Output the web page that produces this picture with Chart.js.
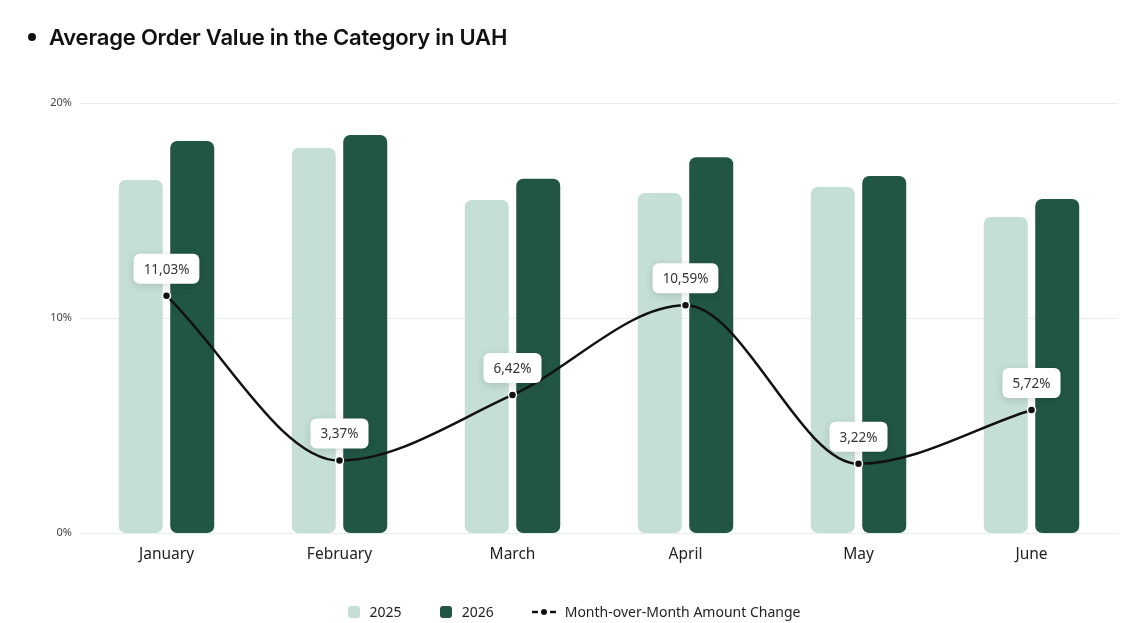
<!DOCTYPE html>
<html>
<head>
<meta charset="utf-8">
<script src="https://cdn.jsdelivr.net/npm/chart.js@4/dist/chart.umd.min.js"></script>
<style>
  html,body{margin:0;padding:0;background:#fff;width:1148px;height:623px;overflow:hidden;}
  #wrap{position:relative;width:1148px;height:623px;}
  #title{position:absolute;left:28px;top:24px;font-family:"Inter","Noto Sans",sans-serif;font-weight:600;font-size:22px;color:#111;letter-spacing:-0.2px;}
  #title .dot{display:inline-block;width:8px;height:8px;border-radius:50%;background:#111;margin-right:13px;vertical-align:middle;position:relative;top:-2px;}
  #chart{position:absolute;left:0;top:0;}
  #legend{position:absolute;left:0;top:602px;width:1148px;display:flex;justify-content:center;font-family:"Noto Sans",sans-serif;font-size:14px;color:#222;}
  .li{display:flex;align-items:center;margin:0 19px;}
  .sw{width:12px;height:12px;border-radius:3px;margin-right:10px;}
  .ln{position:relative;width:24px;height:12px;margin-right:9px;}
</style>
</head>
<body>
<div id="wrap">
  <canvas id="chart" width="1148" height="623"></canvas>
  <div id="title"><span class="dot"></span>Average Order Value in the Category in UAH</div>
  <div id="legend">
    <div class="li"><div class="sw" style="background:#c5dfd6"></div>2025</div>
    <div class="li"><div class="sw" style="background:#215645"></div>2026</div>
    <div class="li"><canvas class="ln" id="lnIcon" width="24" height="12"></canvas>Month-over-Month Amount Change</div>
  </div>
</div>
<script>
const categories = ["January","February","March","April","May","June"];
const aov2025 = [1642, 1791, 1549, 1581, 1609, 1470];
const aov2026 = [1823, 1851, 1648, 1748, 1661, 1554];
const changePct = [11.03, 3.37, 6.42, 10.59, 3.22, 5.72];
const yTicks = [0, 10, 20];

const LIGHT = "#c5dfd6", DARK = "#215645";

// legend line icon
(function(){
  const c = document.getElementById('lnIcon').getContext('2d');
  c.strokeStyle = '#111'; c.lineWidth = 2.5;
  c.beginPath(); c.moveTo(0,6); c.lineTo(6,6); c.stroke();
  c.beginPath(); c.moveTo(18,6); c.lineTo(24,6); c.stroke();
  c.fillStyle = '#111'; c.beginPath(); c.arc(12,6,3,0,Math.PI*2); c.fill();
})();

const labelPlugin = {
  id: 'boxLabels',
  afterDatasetsDraw(chart) {
    const meta = chart.getDatasetMeta(2);
    const ctx = chart.ctx;
    ctx.save();
    ctx.font = '13.5px "Noto Sans", sans-serif';
    meta.data.forEach((pt, i) => {
      const txt = changePct[i].toFixed(2).replace('.', ',') + '%';
      const w = ctx.measureText(txt).width + 20;
      const h = 30;
      const x = pt.x - w / 2;
      const y = pt.y - 12 - h;
      ctx.save();
      ctx.shadowColor = 'rgba(0,0,0,0.14)';
      ctx.shadowBlur = 8;
      ctx.shadowOffsetY = 2;
      ctx.fillStyle = '#fff';
      ctx.beginPath();
      ctx.roundRect(x, y, w, h, 6);
      ctx.fill();
      ctx.restore();
      ctx.fillStyle = '#333';
      ctx.textAlign = 'center';
      ctx.textBaseline = 'middle';
      ctx.fillText(txt, pt.x, y + h / 2 + 1);
    });
    ctx.restore();
  }
};

new Chart(document.getElementById('chart'), {
  data: {
    labels: categories,
    datasets: [
      { type: 'bar', label: '2025', data: aov2025, backgroundColor: LIGHT, yAxisID: 'y1',
        borderRadius: 7, borderSkipped: false, categoryPercentage: 0.595, barPercentage: 0.855, order: 2 },
      { type: 'bar', label: '2026', data: aov2026, backgroundColor: DARK, yAxisID: 'y1',
        borderRadius: 7, borderSkipped: false, categoryPercentage: 0.595, barPercentage: 0.855, order: 2 },
      { type: 'line', label: 'Month-over-Month Amount Change', data: changePct, yAxisID: 'y',
        borderColor: '#111', borderWidth: 2.5, cubicInterpolationMode: 'monotone',
        pointRadius: 4, pointBackgroundColor: '#111', pointBorderColor: '#fff', pointBorderWidth: 1.5, order: 0 }
    ]
  },
  options: {
    responsive: false,
    animation: false,
    layout: { padding: { top: 103, right: 30, left: 0, bottom: 0 } },
    plugins: { legend: { display: false }, tooltip: { enabled: false } },
    scales: {
      x: {
        grid: { display: false, drawTicks: false },
        border: { display: false },
        ticks: { padding: 12, color: '#222', font: { family: '"Noto Sans", sans-serif', size: 15.5 } },
        afterFit(s) { s.height = 90; }
      },
      y: {
        min: 0, max: 20,
        afterBuildTicks(s) { s.ticks = yTicks.map(v => ({ value: v })); },
        grid: { color: '#e6efe9', drawTicks: false, lineWidth: 1 },
        border: { display: false },
        ticks: { padding: 8, color: '#444', font: { family: '"Noto Sans", sans-serif', size: 11 },
                 callback: v => v + '%' },
        afterFit(s) { s.width = 80; }
      },
      y1: { display: false, min: 0, max: 2000 }
    }
  },
  plugins: [labelPlugin]
});
</script>
</body>
</html>
